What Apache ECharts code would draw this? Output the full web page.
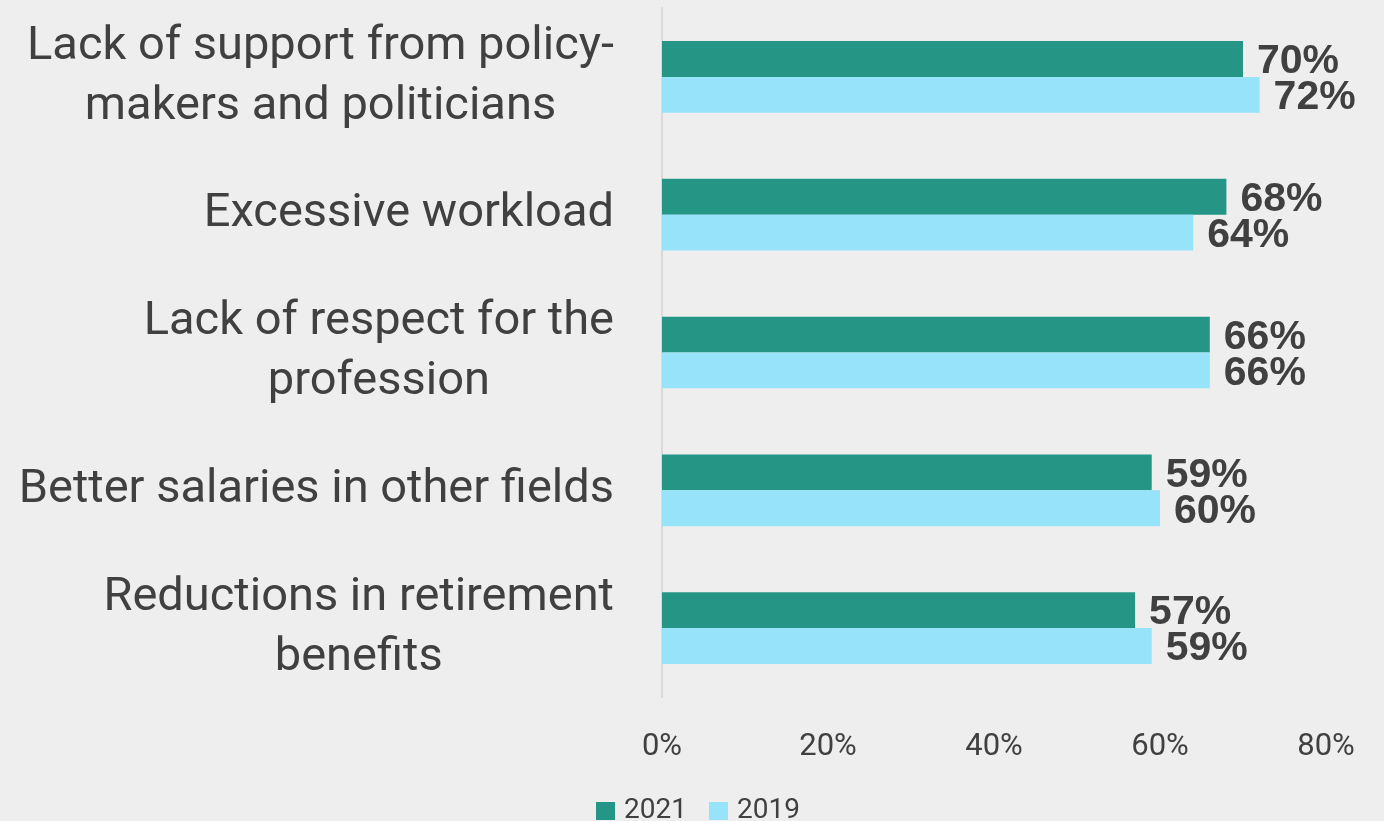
<!DOCTYPE html>
<html><head><meta charset="utf-8">
<script src="https://cdn.jsdelivr.net/npm/echarts@6/dist/echarts.min.js"></script>
<style>html,body{margin:0;padding:0;background:#eeeeee}#c{width:1384px;height:821px}</style>
</head><body><div id="c"></div>
<script>
const categories = [
  "Lack of support from policy-\nmakers and politicians",
  "Excessive workload",
  "Lack of respect for the\nprofession",
  "Better salaries in other fields",
  "Reductions in retirement\nbenefits"
];
const values2021 = [70, 68, 66, 59, 57];
const values2019 = [72, 64, 66, 60, 59];
const xTicks = [0, 20, 40, 60, 80];

const chart = echarts.init(document.getElementById('c'), null, {renderer: 'canvas'});
const labelStyle = {
  show: true, position: 'right', distance: 14, offset: [0, 3],
  formatter: p => p.value + '%',
  fontFamily: 'Liberation Sans', fontWeight: 'bold', fontSize: 41, color: '#404040'
};
chart.setOption({
  backgroundColor: '#eeeeee',
  animation: false,
  textStyle: {fontFamily: 'Roboto'},
  grid: {left: 662, right: 58, top: 8, bottom: 124, containLabel: false},
  legend: {
    top: 797, left: 596, padding: 0, itemWidth: 19, itemHeight: 18, itemGap: 22,
    icon: 'rect',
    textStyle: {fontSize: 28, color: '#404040', fontFamily: 'Roboto', padding: [0, 0, 0, 4]},
    data: ['2021', '2019']
  },
  xAxis: {
    type: 'value', min: xTicks[0], max: xTicks[xTicks.length - 1], interval: 20,
    axisLabel: {formatter: v => v + '%', fontSize: 31, color: '#404040', margin: 35},
    splitLine: {show: false}, axisLine: {show: false}, axisTick: {show: false}
  },
  yAxis: {
    type: 'category', data: categories, inverse: true,
    axisLine: {show: true, lineStyle: {color: '#d9d9d9', width: 2}},
    axisTick: {show: false},
    axisLabel: {
      margin: 48, align: 'right',
      formatter: v => v.split('\n').map(s => '{c|' + s + '}').join('\n'),
      rich: {c: {fontSize: 47, color: '#404040', lineHeight: 60, align: 'center', fontFamily: 'Roboto'}}
    }
  },
  series: [
    {name: '2021', type: 'bar', data: values2021, itemStyle: {color: '#259686'},
     barCategoryGap: '48%', barGap: '0%', label: labelStyle},
    {name: '2019', type: 'bar', data: values2019, itemStyle: {color: '#96e3fa'},
     barCategoryGap: '48%', barGap: '0%', label: labelStyle}
  ]
});
</script></body></html>
